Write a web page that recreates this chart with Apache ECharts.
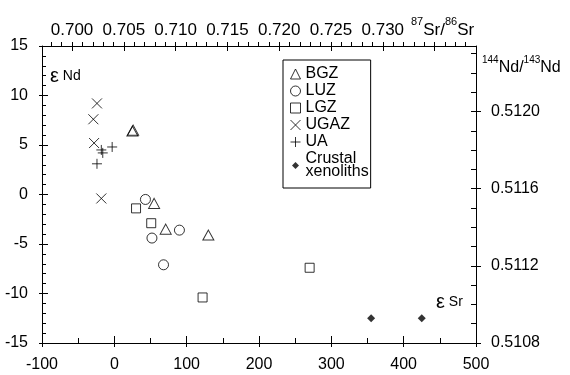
<!DOCTYPE html>
<html>
<head>
<meta charset="utf-8">
<script src="https://cdn.jsdelivr.net/npm/echarts@6/dist/echarts.min.js"></script>
<style>
  html, body { margin: 0; padding: 0; background: #fff; }
  #main { width: 570px; height: 375px; }
</style>
</head>
<body>
<div id="main"></div>
<script>
// data: [eSr, eNd]
var bgz = [[25, 6.4], [26, 6.5], [55, -0.9], [71, -3.5], [130, -4.1]];
var luz = [[43, -0.5], [52, -4.4], [68, -7.1], [90, -3.6]];
var lgz = [[30, -1.4], [51, -2.9], [122, -10.4], [270, -7.4]];
var ugaz = [[-24, 9.2], [-29, 7.6], [-28, 5.2], [-18, -0.4]];
var ua = [[-18, 4.5], [-16, 4.2], [-3, 4.8], [-24, 3.1]];
var xenoliths = [[355, -12.5], [425, -12.5]];

// tick labels
var topTicks = [0.700, 0.705, 0.710, 0.715, 0.720, 0.725, 0.730, 0.735];
var topLabels = [0.700, 0.705, 0.710, 0.715, 0.720, 0.725, 0.730];
var rightTicks = [0.5108, 0.5112, 0.5116, 0.5120];

var FONT = '"Liberation Sans", Arial, sans-serif';
var BLACK = '#000';

// small helper for the minor tick positions
function steps(a, b, step, digits) {
  var out = [];
  for (var i = 0; a + i * step <= b + step / 2; i++) out.push(+(a + i * step).toFixed(digits));
  return out;
}
var topMinor = steps(0.698, 0.738, 0.001, 3);
var rightMinor = steps(0.5108, 0.5123, 0.0001, 4);

var line = { show: true, onZero: false, lineStyle: { color: BLACK, width: 1 } };
var noLine = { show: false, onZero: false };
var tickStyle = { color: BLACK, width: 1 };

// superscript styles for the ratio names
var supRich = {
  s: { fontSize: 11, fontFamily: FONT, verticalAlign: 'bottom', padding: [0, 0, 12, 0] },
  n: { fontSize: 17, fontFamily: FONT, verticalAlign: 'bottom' }
};

var option = {
  animation: false,
  backgroundColor: '#fff',
  grid: { left: 42, right: 94, top: 46, bottom: 32, outerBoundsMode: 'none' },
  xAxis: [
    { // bottom, eSr
      type: 'value', position: 'bottom', min: -100, max: 500, interval: 100,
      axisLine: line,
      axisTick: { show: true, inside: true, length: 7, lineStyle: tickStyle },
      minorTick: { show: true, splitNumber: 2, length: 5, lineStyle: tickStyle },
      axisLabel: { color: BLACK, fontSize: 16, fontFamily: FONT, margin: 14 },
      splitLine: { show: false }
    },
    { // bottom, outer half of major ticks
      type: 'value', position: 'bottom', min: -100, max: 500, interval: 100,
      axisLine: noLine,
      axisTick: { show: true, inside: false, length: 4, lineStyle: tickStyle },
      axisLabel: { show: false },
      splitLine: { show: false }
    },
    { // top, 87Sr/86Sr
      type: 'value', position: 'top', min: 0.6971, max: 0.7390,
      axisLine: line,
      axisTick: { show: true, inside: false, length: 4, customValues: topMinor, lineStyle: tickStyle },
      axisLabel: {
        customValues: topLabels, color: BLACK, fontSize: 17, fontFamily: FONT, margin: 7,
        formatter: function (v) { return v.toFixed(3); }
      },
      splitLine: { show: false }
    },
    { // top, inner half of major ticks
      type: 'value', position: 'top', min: 0.6971, max: 0.7390,
      axisLine: noLine,
      axisTick: { show: true, inside: true, length: 5, customValues: topTicks, lineStyle: tickStyle },
      axisLabel: { show: false },
      splitLine: { show: false }
    }
  ],
  yAxis: [
    { // left, eNd
      type: 'value', position: 'left', min: -15, max: 15, interval: 5,
      axisLine: line,
      axisTick: { show: true, inside: true, length: 6, lineStyle: tickStyle },
      minorTick: { show: true, splitNumber: 5, length: 4, lineStyle: tickStyle },
      axisLabel: { color: BLACK, fontSize: 16, fontFamily: FONT, margin: 14 },
      splitLine: { show: false }
    },
    { // left, outer half of major ticks
      type: 'value', position: 'left', min: -15, max: 15, interval: 5,
      axisLine: noLine,
      axisTick: { show: true, inside: false, length: 3, lineStyle: tickStyle },
      axisLabel: { show: false },
      splitLine: { show: false }
    },
    { // right, Nd ratio
      type: 'value', position: 'right', min: 0.5108, max: 0.51234,
      axisLine: line,
      axisTick: { show: true, inside: true, length: 5, customValues: rightMinor, lineStyle: tickStyle },
      axisLabel: {
        customValues: rightTicks, color: BLACK, fontSize: 16, fontFamily: FONT, margin: 15,
        formatter: function (v) { return v.toFixed(4); }
      },
      splitLine: { show: false }
    },
    { // right, outer half of major ticks
      type: 'value', position: 'right', min: 0.5108, max: 0.51234,
      axisLine: noLine,
      axisTick: { show: true, inside: false, length: 5, customValues: rightTicks, lineStyle: tickStyle },
      axisLabel: { show: false },
      splitLine: { show: false }
    }
  ],
  legend: {
    orient: 'vertical', left: 283, top: 60,
    padding: [6, 2, 8, 7],
    itemWidth: 10, itemHeight: 10, itemGap: 1,
    borderColor: BLACK, borderWidth: 1, backgroundColor: '#fff',
    selectedMode: false,
    itemStyle: { borderWidth: 1 },
    textStyle: { color: BLACK, fontSize: 16, fontFamily: FONT, lineHeight: 16 },
    formatter: function (name) {
      return name === 'Crustal xenoliths' ? 'Crustal\nxenoliths' : name;
    },
    data: [
      { name: 'BGZ' },
      { name: 'LUZ' },
      { name: 'LGZ' },
      { name: 'UGAZ' },
      { name: 'UA' },
      { name: 'Crustal xenoliths', icon: 'path://M0,0M10,10M5,1.5L8.5,5L5,8.5L1.5,5Z', textStyle: { lineHeight: 13 } }
    ]
  },
  graphic: [
    {
      type: 'text', left: 50, top: 66,
      style: {
        text: '{e|ε}{n| Nd}', fill: BLACK,
        rich: { e: { fontSize: 20, fontFamily: FONT }, n: { fontSize: 14, fontFamily: FONT } }
      }
    },
    {
      type: 'text', left: 436, top: 292,
      style: {
        text: '{e|ε}{n| Sr}', fill: BLACK,
        rich: { e: { fontSize: 20, fontFamily: FONT }, n: { fontSize: 14, fontFamily: FONT } }
      }
    },
    {
      type: 'text', left: 411, top: 16,
      style: { text: '{s|87}{n|Sr/}{s|86}{n|Sr}', fill: BLACK, rich: supRich }
    },
    {
      type: 'text', left: 482, top: 55,
      style: {
        text: '{s|144}{n|Nd/}{s|143}{n|Nd}', fill: BLACK,
        rich: {
          s: { fontSize: 10, fontFamily: FONT, verticalAlign: 'bottom', padding: [0, 0, 11, 0] },
          n: { fontSize: 16, fontFamily: FONT, verticalAlign: 'bottom' }
        }
      }
    }
  ],
  series: [
    {
      name: 'BGZ', type: 'scatter', data: bgz,
      symbol: 'triangle', symbolSize: [11, 10],
      itemStyle: { color: 'transparent', borderColor: BLACK, borderWidth: 1 }
    },
    {
      name: 'LUZ', type: 'scatter', data: luz,
      symbol: 'circle', symbolSize: 10,
      itemStyle: { color: 'transparent', borderColor: BLACK, borderWidth: 1 }
    },
    {
      name: 'LGZ', type: 'scatter', data: lgz,
      symbol: 'rect', symbolSize: 9,
      itemStyle: { color: 'transparent', borderColor: BLACK, borderWidth: 1 }
    },
    {
      name: 'UGAZ', type: 'scatter', data: ugaz,
      symbol: 'path://M0,0L10,10M10,0L0,10', symbolSize: 10,
      itemStyle: { color: 'transparent', borderColor: BLACK, borderWidth: 1 }
    },
    {
      name: 'UA', type: 'scatter', data: ua,
      symbol: 'path://M5,0L5,10M0,5L10,5', symbolSize: 10,
      itemStyle: { color: 'transparent', borderColor: BLACK, borderWidth: 1 }
    },
    {
      name: 'Crustal xenoliths', type: 'scatter', data: xenoliths,
      symbol: 'diamond', symbolSize: 8,
      itemStyle: { color: BLACK }
    }
  ]
};

var myChart = echarts.init(document.getElementById('main'), null, { renderer: 'canvas' });
myChart.setOption(option);
</script>
</body>
</html>
